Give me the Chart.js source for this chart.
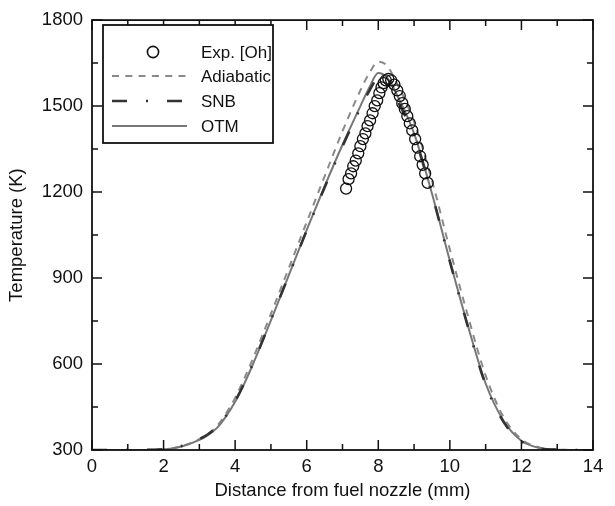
<!DOCTYPE html>
<html>
<head>
<meta charset="utf-8">
<script src="https://cdn.jsdelivr.net/npm/chart.js@4.4.1/dist/chart.umd.min.js"></script>
<style>
html, body { margin: 0; padding: 0; background: #fff; }
</style>
</head>
<body>
<canvas id="tempChart" width="615" height="506"></canvas>
<script>
// distance from fuel nozzle (mm)
var distance = [0, 1, 2, 2.5, 3, 3.25, 3.5, 3.75, 4, 4.25, 4.5, 4.75, 5, 5.5, 6, 6.5, 7, 7.5, 7.75, 8, 8.25, 8.5, 9, 9.5, 10, 10.5, 11, 11.5, 12, 12.5, 13, 14];
var adiabatic = [300, 300, 302, 313, 338, 357, 385, 428, 482, 548, 620, 697, 775, 935, 1095, 1255, 1412, 1555, 1615, 1655, 1640, 1585, 1445, 1240, 1000, 770, 560, 415, 338, 309, 301, 300];
var snb = [300, 300, 303, 314, 338, 356, 381, 420, 470, 532, 602, 677, 754, 910, 1066, 1216, 1360, 1493, 1553, 1598, 1582, 1527, 1395, 1192, 958, 732, 528, 398, 330, 306, 301, 300];
var otm = [300, 300, 302, 312, 335, 353, 378, 418, 468, 530, 600, 675, 752, 910, 1068, 1220, 1365, 1500, 1565, 1615, 1598, 1545, 1405, 1195, 960, 735, 532, 402, 332, 307, 301, 300];

var expDistance = [7.1, 7.17, 7.24, 7.3, 7.37, 7.44, 7.5, 7.57, 7.64, 7.7, 7.77, 7.84, 7.9, 7.97, 8.03, 8.09, 8.15, 8.21, 8.28, 8.36, 8.45, 8.53, 8.6, 8.67, 8.74, 8.81, 8.88, 8.95, 9.03, 9.1, 9.17, 9.24, 9.31, 9.38];
var expTemp = [1212, 1245, 1265, 1290, 1310, 1335, 1360, 1385, 1405, 1430, 1450, 1475, 1500, 1520, 1545, 1565, 1580, 1590, 1595, 1590, 1575, 1555, 1535, 1510, 1490, 1465, 1440, 1415, 1385, 1355, 1325, 1295, 1265, 1232];

var xMin = 0, xMax = 14, xStep = 2;
var yMin = 300, yMax = 1800, yStep = 300;

function pts(xs, ys) {
  return xs.map(function (x, i) { return { x: x, y: ys[i] }; });
}

// frame, inward ticks and the boxed legend
var framePlugin = {
  id: 'frame',
  afterDraw: function (chart) {
    var c = chart.ctx, a = chart.chartArea;
    var xs = chart.scales.x, ys = chart.scales.y;
    c.save();
    c.strokeStyle = '#111';
    c.lineWidth = 1.8;
    c.strokeRect(a.left, a.top, a.right - a.left, a.bottom - a.top);
    c.lineWidth = 1.5;
    c.beginPath();
    for (var v = xMin; v <= xMax; v += 1) {
      var px = xs.getPixelForValue(v);
      var len = (v % xStep === 0) ? 10 : 6;
      c.moveTo(px, a.bottom); c.lineTo(px, a.bottom - len);
      c.moveTo(px, a.top); c.lineTo(px, a.top + len);
    }
    for (var t = yMin; t <= yMax; t += yStep / 2) {
      var py = ys.getPixelForValue(t);
      var l2 = ((t - yMin) % yStep === 0) ? 10 : 6;
      c.moveTo(a.left, py); c.lineTo(a.left + l2, py);
      c.moveTo(a.right, py); c.lineTo(a.right - l2, py);
    }
    c.stroke();

    // legend box
    var bx = 103, by = 25, bw = 170, bh = 118;
    c.fillStyle = '#fff';
    c.fillRect(bx, by, bw, bh);
    c.lineWidth = 1.8;
    c.strokeStyle = '#111';
    c.strokeRect(bx, by, bw, bh);
    c.font = '17px "Liberation Sans", Arial, sans-serif';
    c.textBaseline = 'middle';
    var rowY = [52, 76, 101, 126];
    chart.data.datasets.forEach(function (ds, i) {
      var y = rowY[i];
      c.save();
      if (ds.showLine === false) {
        c.beginPath();
        c.lineWidth = 1.6;
        c.strokeStyle = ds.borderColor;
        c.arc(153, y, 5.6, 0, Math.PI * 2);
        c.stroke();
      } else {
        c.beginPath();
        c.lineWidth = ds.borderWidth;
        c.strokeStyle = ds.borderColor;
        c.setLineDash(ds.borderDash || []);
        c.moveTo(112, y); c.lineTo(187, y);
        c.stroke();
      }
      c.restore();
      c.fillStyle = '#111';
      c.fillText(ds.label, 201, y + 1);
    });
    c.restore();
  }
};

var tickFont = { family: '"Liberation Sans", Arial, sans-serif', size: 18.5 };

var ctx = document.getElementById('tempChart').getContext('2d');
var myChart = new Chart(ctx, {
  type: 'line',
  data: {
    datasets: [{
        label: 'Exp. [Oh]',
        data: pts(expDistance, expTemp),
        showLine: false,
        pointStyle: 'circle',
        pointRadius: 5.5,
        borderColor: '#111',
        backgroundColor: 'transparent',
        borderWidth: 1.3,
        order: 0
      },
      {
        label: 'Adiabatic',
        data: pts(distance, adiabatic),
        borderColor: '#8a8a8a',
        borderWidth: 2,
        borderDash: [7, 6.3],
        pointRadius: 0,
        cubicInterpolationMode: 'monotone',
        fill: false,
        order: 3
      },
      {
        label: 'SNB',
        data: pts(distance, snb),
        borderColor: '#333',
        borderWidth: 2.6,
        borderDash: [15, 19, 2, 19],
        pointRadius: 0,
        cubicInterpolationMode: 'monotone',
        fill: false,
        order: 1
      },
      {
        label: 'OTM',
        data: pts(distance, otm),
        borderColor: '#777',
        borderWidth: 2,
        pointRadius: 0,
        cubicInterpolationMode: 'monotone',
        fill: false,
        order: 2
      }
    ]
  },
  options: {
    responsive: false,
    animation: false,
    devicePixelRatio: 1,
    layout: { padding: { top: 15, right: 22, left: 0, bottom: 0 } },
    plugins: {
      legend: { display: false },
      tooltip: { enabled: false }
    },
    scales: {
      x: {
        type: 'linear',
        min: xMin,
        max: xMax,
        ticks: { stepSize: xStep, color: '#111', font: tickFont, padding: 6, maxRotation: 0 },
        grid: { display: false, drawTicks: false },
        border: { display: false },
        title: { display: true, text: 'Distance from fuel nozzle (mm)', color: '#111', font: tickFont, padding: { top: 2, bottom: 4 } },
        afterFit: function (s) { s.height = 56; }
      },
      y: {
        type: 'linear',
        min: yMin,
        max: yMax,
        ticks: {
          stepSize: yStep, color: '#111', font: tickFont, padding: 9,
          callback: function (v) { return String(v); }
        },
        grid: { display: false, drawTicks: false },
        border: { display: false },
        title: { display: true, text: 'Temperature (K)', color: '#111', font: tickFont, padding: { top: 6, bottom: 4 } },
        afterFit: function (s) { s.width = 92; }
      }
    }
  },
  plugins: [framePlugin]
});
</script>
</body>
</html>
